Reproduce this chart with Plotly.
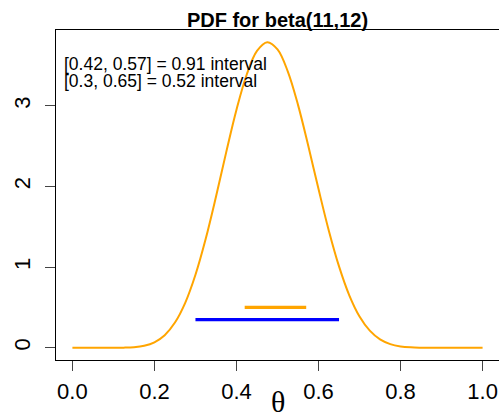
import plotly.graph_objects as go

# Beta(11,12) density, values at steps of 0.025
theta = [0.000, 0.025, 0.050, 0.075, 0.100, 0.125, 0.150, 0.175, 0.200, 0.225,
         0.250, 0.275, 0.300, 0.325, 0.350, 0.375, 0.400, 0.425, 0.450, 0.475,
         0.500, 0.525, 0.550, 0.575, 0.600, 0.625, 0.650, 0.675, 0.700, 0.725,
         0.750, 0.775, 0.800, 0.825, 0.850, 0.875, 0.900, 0.925, 0.950, 0.975, 1.000]
density = [0.0, 0.0, 0.0, 0.00002, 0.00024, 0.0017, 0.0075, 0.0252, 0.0683, 0.156,
           0.313, 0.558, 0.906, 1.352, 1.873, 2.426, 2.952, 3.389, 3.681, 3.789,
           3.700, 3.428, 3.012, 2.505, 1.968, 1.455, 1.009, 0.651, 0.388, 0.212,
           0.104, 0.0454, 0.0171, 0.0053, 0.0013, 0.0002, 0.00002, 0.0, 0.0, 0.0, 0.0]

interval_lo = [0.42, 0.3]
interval_hi = [0.57, 0.65]
interval_prob = [0.91, 0.52]
interval_level = [0.5, 0.35]
interval_color = ["#FFA500", "#0000FF"]

x_ticks = [0.0, 0.2, 0.4, 0.6, 0.8, 1.0]
x_tick_text = ["0.0", "0.2", "0.4", "0.6", "0.8", "1.0"]
y_ticks = [0, 1, 2, 3]

title_text = "PDF for beta(11,12)"
x_label = "θ"

W, H = 499, 413
L, R, T, B = 56, 0, 30, 53
PH = H - T - B
PW = W - L - R

fig = go.Figure()
fig.add_trace(go.Scatter(x=theta, y=density, mode="lines", line=dict(color="#FFA500", width=2, shape="spline"),
                         showlegend=False, hoverinfo="skip"))
for lo, hi, lv, col in zip(interval_lo, interval_hi, interval_level, interval_color):
    fig.add_trace(go.Scatter(x=[lo, hi], y=[lv, lv], mode="lines", line=dict(color=col, width=3.3),
                             showlegend=False, hoverinfo="skip"))

ymax = max(density)
yr = [-0.04 * ymax, ymax * 1.04]

font = "Liberation Sans, Arial, sans-serif"
annotations = []
line_px = [64, 81]
for i, (lo, hi, p) in enumerate(zip(interval_lo, interval_hi, interval_prob)):
    annotations.append(dict(text=f"[{lo}, {hi}] = {p} interval", xref="paper", yref="paper",
                            x=(62 - L) / PW, y=(H - B - line_px[i]) / PH, xanchor="left", yanchor="middle",
                            showarrow=False, font=dict(family=font, size=17.5, color="black")))
annotations.append(dict(text=x_label, xref="paper", yref="paper", x=0.5, y=(H - B - 401) / PH,
                        xanchor="center", yanchor="middle", showarrow=False,
                        font=dict(family="Liberation Serif, DejaVu Serif, serif", size=30, color="black")))

fig.update_layout(
    width=W, height=H,
    margin=dict(l=L, r=R, t=T, b=B, autoexpand=False),
    paper_bgcolor="white", plot_bgcolor="white",
    title=dict(text=f"<b>{title_text}</b>", x=(L + PW / 2) / W, xref="container", xanchor="center",
               y=1 - 20 / H, yref="container", yanchor="middle", automargin=False,
               font=dict(family=font, size=20, color="black")),
    xaxis=dict(range=[-0.04, 1.04], tickvals=x_ticks, ticktext=x_tick_text, ticks="outside", ticklen=10,
               tickcolor="#444", showline=True, linecolor="black", linewidth=1, mirror=True,
               showgrid=False, zeroline=False, tickfont=dict(family=font, size=22, color="black"),
               ticklabelstandoff=2, automargin=False),
    yaxis=dict(range=yr, tickvals=y_ticks, ticks="outside", ticklen=10, tickcolor="#444",
               showline=True, linecolor="black", linewidth=1, mirror=False,
               showgrid=False, zeroline=False, tickangle=-90,
               tickfont=dict(family=font, size=22, color="black"), ticklabelstandoff=6,
               automargin=False),
    annotations=annotations,
)

fig.write_html("out.html", config={"displayModeBar": False},
               post_script="document.body.style.margin='0';document.body.style.overflow='hidden';")
